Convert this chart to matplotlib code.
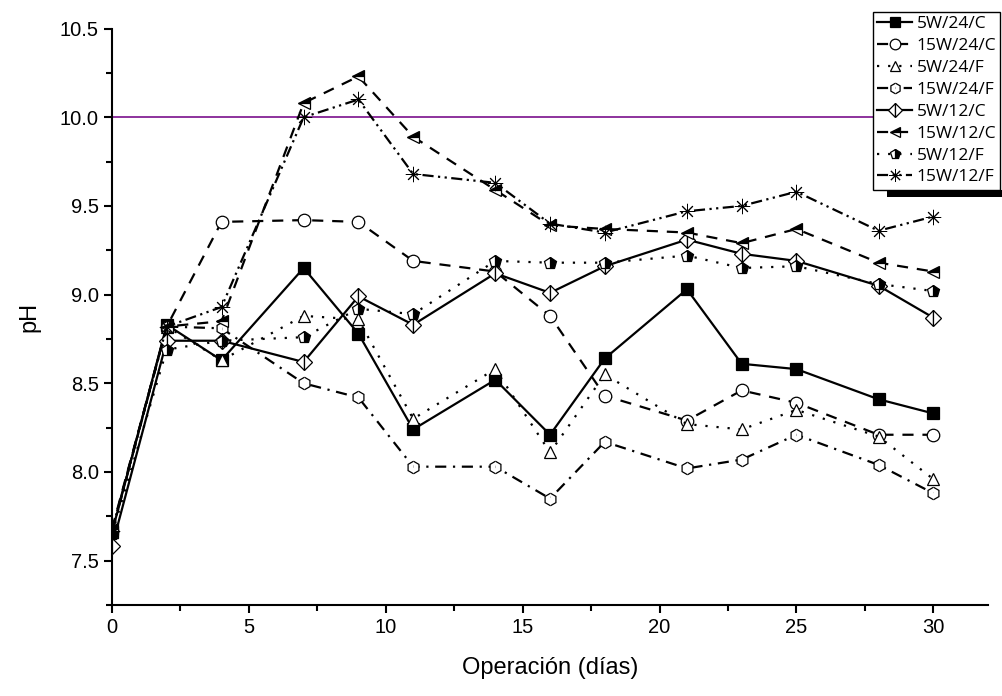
import matplotlib
matplotlib.use('Agg')
import matplotlib.pyplot as plt
from matplotlib.patches import Rectangle
from matplotlib.ticker import MultipleLocator

# operation days
days = [0, 2, 4, 7, 9, 11, 14, 16, 18, 21, 23, 25, 28, 30]

ph_5w_24_c = [7.66, 8.83, 8.63, 9.15, 8.78, 8.24, 8.52, 8.21, 8.64, 9.03, 8.61, 8.58, 8.41, 8.33]
ph_15w_24_c = [7.67, 8.82, 9.41, 9.42, 9.41, 9.19, 9.13, 8.88, 8.43, 8.29, 8.46, 8.39, 8.21, 8.21]
ph_5w_24_f = [7.66, 8.82, 8.63, 8.88, 8.86, 8.30, 8.58, 8.11, 8.55, 8.27, 8.24, 8.35, 8.20, 7.96]
ph_15w_24_f = [7.66, 8.82, 8.81, 8.50, 8.42, 8.03, 8.03, 7.85, 8.17, 8.02, 8.07, 8.21, 8.04, 7.88]
ph_5w_12_c = [7.58, 8.74, 8.74, 8.62, 8.99, 8.83, 9.12, 9.01, 9.16, 9.31, 9.23, 9.19, 9.05, 8.87]
ph_15w_12_c = [7.68, 8.82, 8.85, 10.08, 10.23, 9.89, 9.59, 9.39, 9.37, 9.35, 9.29, 9.37, 9.18, 9.13]
ph_5w_12_f = [7.65, 8.69, 8.74, 8.76, 8.92, 8.89, 9.19, 9.18, 9.18, 9.22, 9.15, 9.16, 9.06, 9.02]
ph_15w_12_f = [7.67, 8.82, 8.93, 10.00, 10.10, 9.68, 9.63, 9.40, 9.35, 9.47, 9.50, 9.58, 9.36, 9.44]

labels = ['5W/24/C', '15W/24/C', '5W/24/F', '15W/24/F',
          '5W/12/C', '15W/12/C', '5W/12/F', '15W/12/F']
limit_ph = 10.0

plt.rcParams['font.family'] = ['Liberation Sans', 'DejaVu Sans']

fig = plt.figure(figsize=(10.02, 6.96), dpi=100)
ax = fig.add_axes([0.1118, 0.1307, 0.8743, 0.8283])

ax.axhline(limit_ph, color='#7a0f8c', lw=1.2, zorder=1)

lw = 1.6
ms = 9
series = [
    (ph_5w_24_c, dict(ls='-', marker='s', mfc='black')),
    (ph_15w_24_c, dict(ls=(0, (5, 4)), marker='o', mfc='white')),
    (ph_5w_24_f, dict(ls=(0, (1, 4)), marker='^', mfc='white')),
    (ph_15w_24_f, dict(ls=(0, (5, 3, 1, 3)), marker='h', mfc='white',
                       fillstyle='left', markerfacecoloralt='white')),
    (ph_5w_12_c, dict(ls='-', marker='D', mfc='white', ms=8,
                      fillstyle='left', markerfacecoloralt='white')),
    (ph_15w_12_c, dict(ls=(0, (5, 4)), marker='<', mfc='black',
                       fillstyle='top', markerfacecoloralt='white')),
    (ph_5w_12_f, dict(ls=(0, (1, 4)), marker='p', mfc='black',
                      fillstyle='right', markerfacecoloralt='white')),
    (ph_15w_12_f, dict(ls=(0, (5, 2, 1, 2, 1, 2)), marker=(8, 2, 0), mfc='white',
                       ms=11, mew=0.7)),
]
for (vals, style), lab in zip(series, labels):
    kw = dict(color='black', lw=lw, ms=ms, mec='black', mew=0.9)
    kw.update(style)
    ax.plot(days, vals, label=lab, zorder=3, **kw)

ax.set_xlim(0, 32)
ax.set_ylim(7.25, 10.5)
ax.xaxis.set_major_locator(MultipleLocator(5))
ax.xaxis.set_minor_locator(MultipleLocator(2.5))
ax.yaxis.set_major_locator(MultipleLocator(0.5))
ax.yaxis.set_minor_locator(MultipleLocator(0.25))
ax.yaxis.set_major_formatter(plt.FormatStrFormatter('%.1f'))
ax.tick_params(which='major', direction='out', length=6, width=1.5, labelsize=14.5)
ax.tick_params(which='minor', direction='out', length=4, width=1.5)
for side in ['top', 'right']:
    ax.spines[side].set_visible(False)
for side in ['left', 'bottom']:
    ax.spines[side].set_linewidth(1.5)

ax.set_xlabel('Operación (días)', fontsize=17, labelpad=14)
ax.set_ylabel('pH', fontsize=17, labelpad=14)

leg = fig.legend(loc='upper left', bbox_to_anchor=(873 / 1002, 0.983),
                 prop={'family': 'Open Sans', 'size': 12.5},
                 frameon=True, fancybox=False, edgecolor='black',
                 handlelength=2.0, handletextpad=0.25, labelspacing=0.33,
                 borderpad=0.25, borderaxespad=0, markerscale=0.85)
leg.get_frame().set_linewidth(1.0)
leg.get_frame().set_alpha(1)

fig.canvas.draw()
bb = leg.get_window_extent()
shadow = Rectangle((bb.x0 + 14, bb.y0 - 7), bb.width, 7, transform=None,
                   facecolor='black', edgecolor='none', zorder=10)
fig.patches.append(shadow)

fig.savefig('out.png', dpi=100)
